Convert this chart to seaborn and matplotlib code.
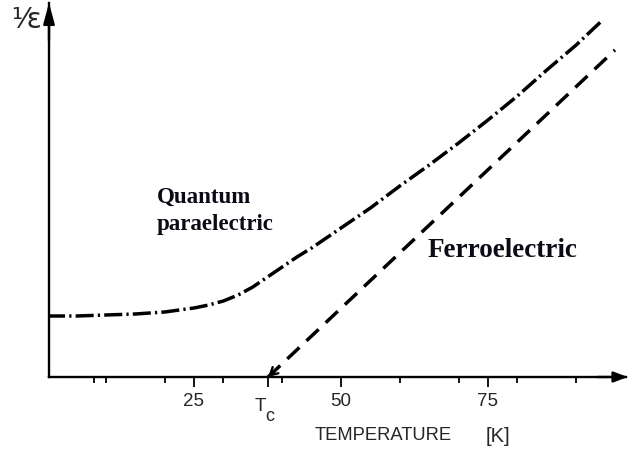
import matplotlib
matplotlib.use("Agg")
import matplotlib.pyplot as plt
import matplotlib.transforms as mtransforms
import seaborn as sns

# Inverse dielectric constant (arbitrary units) versus temperature (K)
temps_qp = [0, 5, 10, 15, 20, 22.5, 25, 27.5, 30, 32.5, 35, 37.5, 40, 42.5, 45,
            50, 55, 60, 65, 70, 75, 80, 85, 90, 94.5]
inv_eps_qp = [0.61, 0.61, 0.62, 0.63, 0.65, 0.67, 0.69, 0.72, 0.76, 0.82, 0.90,
              1.00, 1.10, 1.20, 1.29, 1.49, 1.69, 1.91, 2.12, 2.34, 2.57, 2.81,
              3.07, 3.32, 3.57]

t_c = 37.6
temps_fe = [t_c, 96.6]
inv_eps_fe = [0.0, 3.27]

major_ticks = [25, t_c, 50, 75]
major_labels = ["25", "", "50", "75"]
minor_ticks = [8, 10, 20, 30, 40, 60, 70, 80, 90]

sns.set_style("white")
plt.rcParams["font.family"] = ["Liberation Sans", "DejaVu Sans"]
plt.rcParams["lines.scale_dashes"] = False

W, H = 629, 450
fig = plt.figure(figsize=(W / 100, H / 100), dpi=100)
ax = fig.add_axes([49 / W, (H - 377) / H, (626 - 49) / W, (377 - 3) / H])

sns.lineplot(x=temps_qp, y=inv_eps_qp, ax=ax, color="black", lw=2.5,
             linestyle=(0, (13, 3, 1.6, 3)), solid_capstyle="butt")
sns.lineplot(x=temps_fe, y=inv_eps_fe, ax=ax, color="black", lw=2.5,
             linestyle=(0, (12, 7)))

# open arrowhead where the ferroelectric line meets the axis
ax.annotate("", xy=(t_c, 0), xytext=(t_c + 1.2, 0.065),
            arrowprops=dict(arrowstyle="->,head_length=0.55,head_width=0.3",
                            color="black", lw=1.7, shrinkA=0, shrinkB=0))

ax.set_xlim(0.34, 98.47)
ax.set_ylim(0, 3.74)

for side in ("top", "right"):
    ax.spines[side].set_visible(False)
for side in ("left", "bottom"):
    ax.spines[side].set_color("black")
    ax.spines[side].set_linewidth(1.7)

# axis arrowheads
ax.annotate("", xy=(0, 1.0), xytext=(0, 0.9), xycoords="axes fraction",
            arrowprops=dict(arrowstyle="-|>,head_length=1.25,head_width=0.34",
                            color="black", lw=1.7, mutation_scale=10,
                            shrinkA=0, shrinkB=0))
ax.annotate("", xy=(1.003, 0), xytext=(0.95, 0), xycoords="axes fraction",
            arrowprops=dict(arrowstyle="-|>,head_length=0.85,head_width=0.32",
                            color="black", lw=1.7, mutation_scale=10,
                            shrinkA=0, shrinkB=0))

ax.set_yticks([])
ax.set_xticks(major_ticks)
ax.set_xticklabels(major_labels)
ax.set_xticks(minor_ticks, minor=True)
ax.tick_params(axis="x", which="major", direction="out", length=7.5, width=1.3,
               color="black", labelsize=13.5, pad=4, bottom=True)
ax.tick_params(axis="x", which="minor", direction="out", length=4.5, width=1.3,
               color="black", bottom=True)
ax.set_xlabel("")
ax.set_ylabel("")

# T_c label, drawn as T with a large, low subscript c
blend = mtransforms.blended_transform_factory(ax.transData, ax.transAxes)
ax.text(t_c, 0, "T", fontsize=13.5, ha="right", va="top",
        transform=mtransforms.offset_copy(blend, fig, x=-1.5, y=-15, units="points"))
ax.text(t_c, 0, "c", fontsize=13, ha="left", va="top",
        transform=mtransforms.offset_copy(blend, fig, x=-2.0, y=-22, units="points"))

def fx(px):
    return px / W

def fy(py):
    return 1 - py / H

fig.text(fx(315), fy(440), "TEMPERATURE", fontsize=13.2, va="baseline", ha="left")
fig.text(fx(486), fy(442), "[K]", fontsize=14.5, va="baseline", ha="left")
fig.text(fx(11), fy(28), "¹⁄ɛ", fontsize=20, va="baseline", ha="left",
         family=["DejaVu Sans"])

serif = ["Liberation Serif", "DejaVu Serif"]
fig.text(fx(157), fy(203), "Quantum", fontsize=16.5, fontweight="bold",
         family=serif, va="baseline", ha="left", color="#0b0b16")
fig.text(fx(157), fy(230), "paraelectric", fontsize=16.5, fontweight="bold",
         family=serif, va="baseline", ha="left", color="#0b0b16")
fig.text(fx(428), fy(257), "Ferroelectric", fontsize=19.5, fontweight="bold",
         family=serif, va="baseline", ha="left", color="#0b0b16")

fig.savefig("out.png", dpi=100, facecolor="white")
